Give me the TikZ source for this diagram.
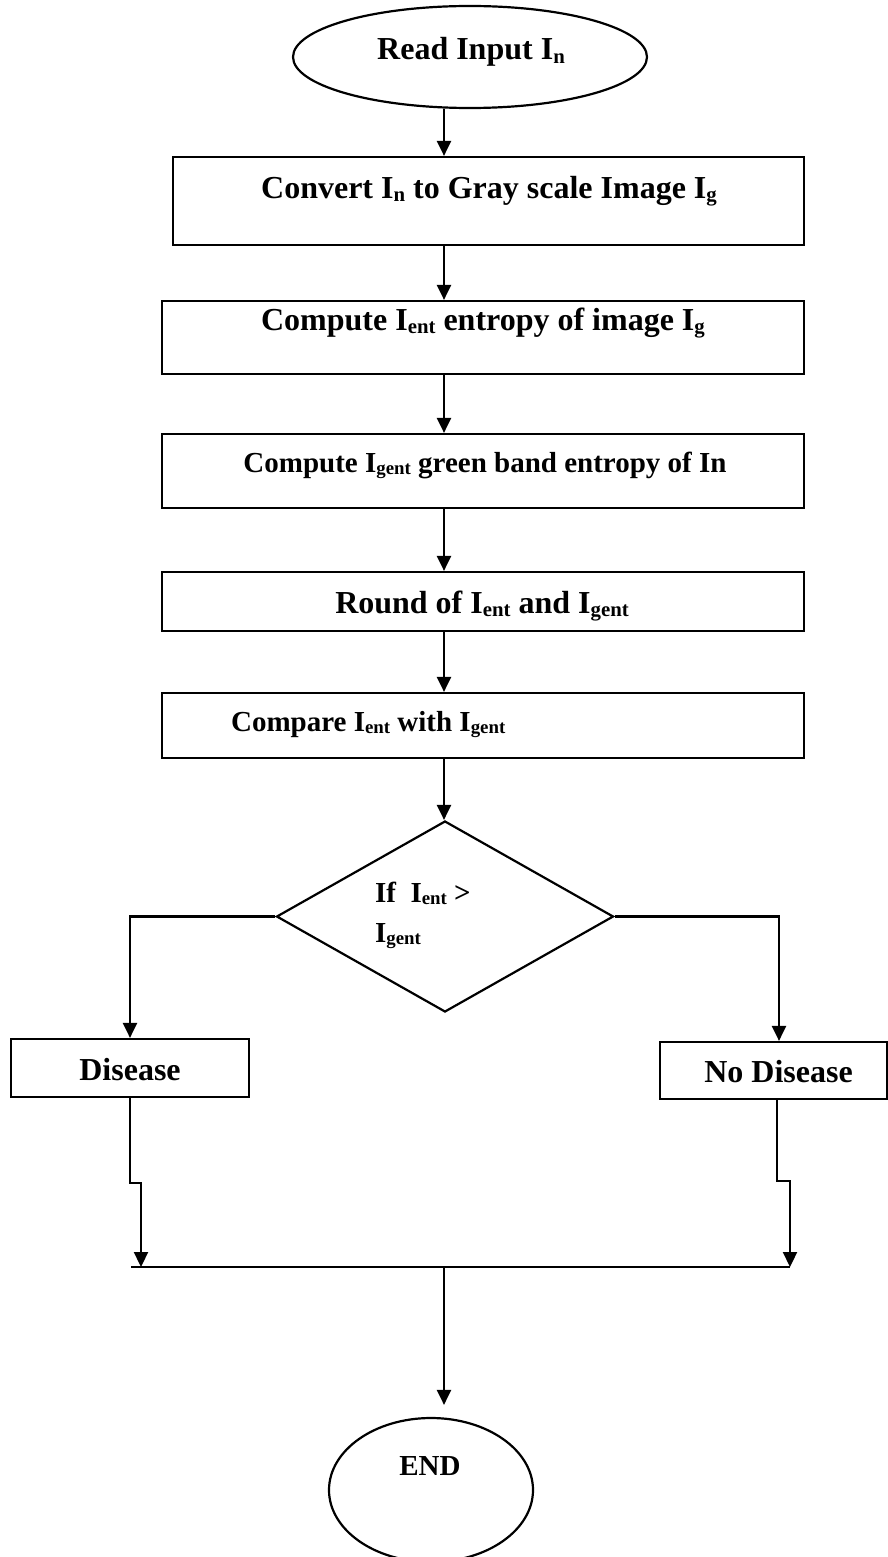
\documentclass[tikz,border=0pt]{standalone}
\usepackage{fontspec}
\setmainfont{Liberation Serif}
\usetikzlibrary{shapes.geometric,arrows.meta}
\newcommand\sbx[1]{\raisebox{-0.1em}{\scalebox{0.65}{#1}}}
\begin{document}
\begin{tikzpicture}[x=1pt,y=-1pt,line width=2.2pt,
  box/.style={draw,rectangle,inner sep=0pt},
  oval/.style={draw,ellipse,inner sep=0pt},
  txt/.style={font=\fontsize{32}{38}\selectfont\bfseries,inner sep=0pt,anchor=base},
  txs/.style={font=\fontsize{29}{34}\selectfont\bfseries,inner sep=0pt,anchor=base},
  arr/.style={-{Triangle[length=15pt,width=14pt]}}]
\useasboundingbox (0,0) rectangle (888,1557);
\coordinate (ax) at (444,0);
% shapes
\node[oval,minimum width=354pt,minimum height=102pt] (start) at (470,57) {};
\node[txt] (tstart) at (471,60) {Read Input I\sbx{n}};
\node[box,minimum width=631pt,minimum height=88pt] (b1) at (488.5,201) {};
\node[txt] (t1) at (489,198) {Convert I\sbx{n} to Gray scale Image I\sbx{g}};
\node[box,minimum width=642pt,minimum height=73pt] (b2) at (483,337.5) {};
\node[txt] (t2) at (483,330) {Compute I\sbx{ent} entropy of image I\sbx{g}};
\node[box,minimum width=642pt,minimum height=74pt] (b3) at (483,471) {};
\node[txs] (t3) at (485,472) {Compute I\sbx{gent} green band entropy of In};
\node[box,minimum width=642pt,minimum height=59pt] (b4) at (483,601.5) {};
\node[txt] (t4) at (482,613) {Round of I\sbx{ent} and I\sbx{gent}};
\node[box,minimum width=642pt,minimum height=65pt] (b5) at (483,725.5) {};
\node[txs,anchor=base west] (t5) at (230,731) {Compare I\sbx{ent} with I\sbx{gent}};
\node[draw,diamond,inner sep=0pt,minimum width=337pt,minimum height=191pt] (dia) at (445,916.5) {};
\node[txs,anchor=base west] (t6) at (374,902) {If\ \ I\sbx{ent} >};
\node[txs,anchor=base west] (t7) at (374,942) {I\sbx{gent}};
\node[box,minimum width=238pt,minimum height=58pt] (dis) at (130,1068) {};
\node[txt] (tdis) at (130,1080) {Disease};
\node[box,minimum width=227pt,minimum height=57pt] (nodis) at (773.5,1070.5) {};
\node[txt] (tnodis) at (778.5,1082) {No Disease};
\node[oval,minimum width=204pt,minimum height=144pt] (end) at (431,1490) {};
\node[txs] (tend) at (430,1475) {END};
% connectors
\draw[arr] (start.south -| ax) -- (b1.north -| ax);
\draw[arr] (b1.south -| ax) -- (b2.north -| ax);
\draw[arr] (b2.south -| ax) -- (b3.north -| ax);
\draw[arr] (b3.south -| ax) -- (b4.north -| ax);
\draw[arr] (b4.south -| ax) -- (b5.north -| ax);
\draw[arr] (b5.south -| ax) -- (dia.north -| ax);
\coordinate (rx) at (779,0);
\draw[arr] (dia.west) -| (dis.north);
\draw[arr] (dia.east) -| (nodis.north -| rx);
\coordinate (hl) at (131,1267);
\coordinate (hr) at (790,1267);
\coordinate (lk) at (130,1183);
\coordinate (lj) at (141,1267);
\coordinate (rl) at (777,0);
\coordinate (rk) at (777,1181);
\draw[arr] (dis.south) -- (lk) -| (lj);
\draw[arr] (nodis.south -| rl) -- (rk) -| (hr);
\draw (hl) -- (hr);
\coordinate (endtop) at ([yshift=12pt]end.north);
\draw[arr] (hl -| ax) -- (ax |- endtop);
\end{tikzpicture}
\end{document}
